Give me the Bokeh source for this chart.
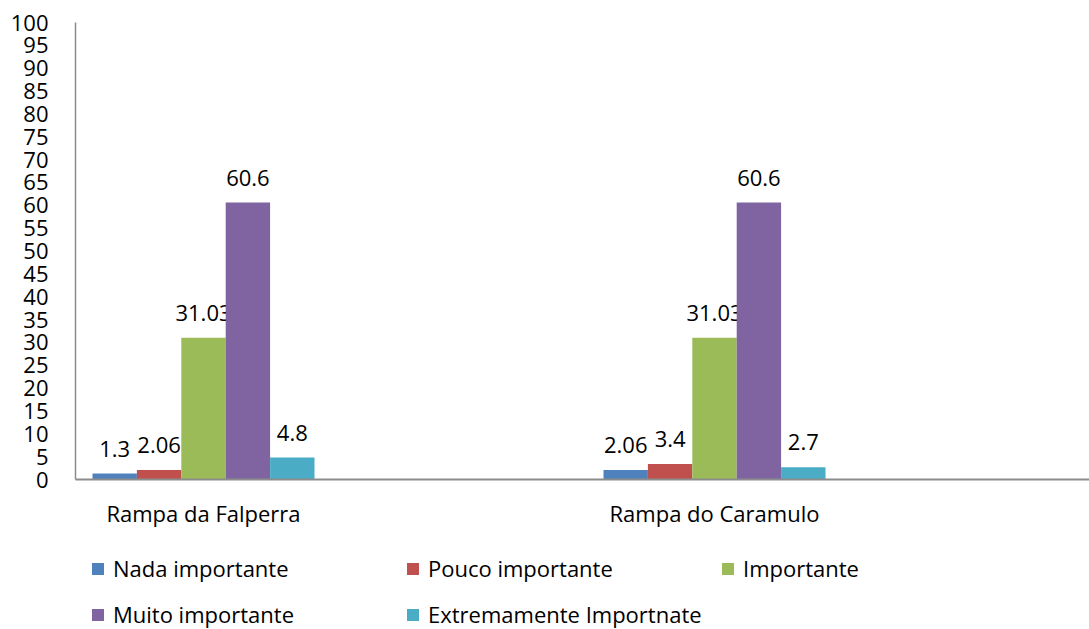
from bokeh.plotting import figure
from bokeh.layouts import column
from bokeh.models import ColumnDataSource, Range1d, FixedTicker, Legend, LegendItem
from bokeh.core.properties import value
from bokeh.embed import file_html
from bokeh.resources import INLINE

# Importance ratings (%) for each ramp
places = ["Rampa da Falperra", "Rampa do Caramulo"]
series = ["Nada importante", "Pouco importante", "Importante",
          "Muito importante", "Extremamente Importnate"]
nada = [1.3, 2.06]
pouco = [2.06, 3.4]
importante = [31.03, 31.03]
muito = [60.6, 60.6]
extremamente = [4.8, 2.7]
y_ticks = list(range(0, 101, 5))

colors = ["#4F81BD", "#C0504D", "#9BBB59", "#8064A2", "#4BACC6"]
values = [nada, pouco, importante, muito, extremamente]

FONT = "Open Sans"
FS = "22px"
W = 1089
MAIN_H, LEG_H = 545, 84
left, top, bottom = 75, 22, 66
frame_w = W - left
group_px = 511.0      # distance between group centres in px
first_px = 203.0 - left
bar_px = 44.4

x0 = -first_px / group_px
x1 = (frame_w - first_px) / group_px
bar_w = bar_px / group_px

p = figure(width=W, height=MAIN_H, output_backend="svg", toolbar_location=None,
           x_range=Range1d(x0, x1), y_range=Range1d(0, 100),
           min_border_left=left, min_border_top=top, min_border_right=0,
           min_border_bottom=bottom)
p.outline_line_color = None
p.xgrid.visible = False
p.ygrid.visible = False

for i, (vals, col) in enumerate(zip(values, colors)):
    off = (i - 2) * bar_w
    src = ColumnDataSource(dict(
        x=[g + off for g in range(len(places))],
        top=vals,
        label=[f"{v:g}" for v in vals],
    ))
    p.vbar(x="x", top="top", width=bar_w, bottom=0, source=src,
           fill_color=col, line_color=None)
    p.text(x="x", y="top", text="label", source=src,
           text_align="center", text_baseline="middle", y_offset=-25,
           text_font=value(FONT), text_font_size=FS, text_color="black")

# y axis
p.yaxis.ticker = FixedTicker(ticks=y_ticks)
p.yaxis.major_tick_line_color = None
p.yaxis.minor_tick_line_color = None
p.yaxis.axis_line_color = "#8c8c8c"
p.yaxis.axis_line_width = 1.5
p.yaxis.major_label_standoff = 21
p.yaxis.major_label_text_font = FONT
p.yaxis.major_label_text_font_size = FS
p.yaxis.major_label_text_color = "black"

# x axis with category names
p.xaxis.ticker = FixedTicker(ticks=[0, 1])
p.xaxis.major_label_overrides = {0: places[0], 1: places[1]}
p.xaxis.major_tick_line_color = None
p.xaxis.minor_tick_line_color = None
p.xaxis.axis_line_color = "#8c8c8c"
p.xaxis.axis_line_width = 2
p.xaxis.major_label_standoff = 12
p.xaxis.major_label_text_font = FONT
p.xaxis.major_label_text_font_size = FS
p.xaxis.major_label_text_color = "black"

# legend strip below the chart
lg = figure(width=W, height=LEG_H, output_backend="svg", toolbar_location=None,
            x_range=Range1d(0, 1), y_range=Range1d(0, 1),
            min_border=0)
lg.axis.visible = False
lg.grid.visible = False
lg.outline_line_color = None

items = []
for name, col in zip(series, colors):
    # off-range swatch that only feeds the legend key
    r = lg.quad(left=[-3], right=[-2], bottom=[-3], top=[-2],
                fill_color=col, line_color=None)
    items.append(LegendItem(label=name, renderers=[r]))

# three columns, filled column by column
order = [0, 3, 1, 4, 2]
legend = Legend(items=[items[k] for k in order], ncols=3,
                location=(15, 0),
                glyph_width=15, glyph_height=15, label_standoff=8,
                label_width=276, label_height=26, spacing=16,
                padding=0, margin=0, border_line_color=None,
                background_fill_alpha=0,
                label_text_font=FONT, label_text_font_size=FS,
                label_text_color="black")
lg.add_layout(legend, "center")

open("out.html", "w").write(file_html(column(p, lg, spacing=0), INLINE))
